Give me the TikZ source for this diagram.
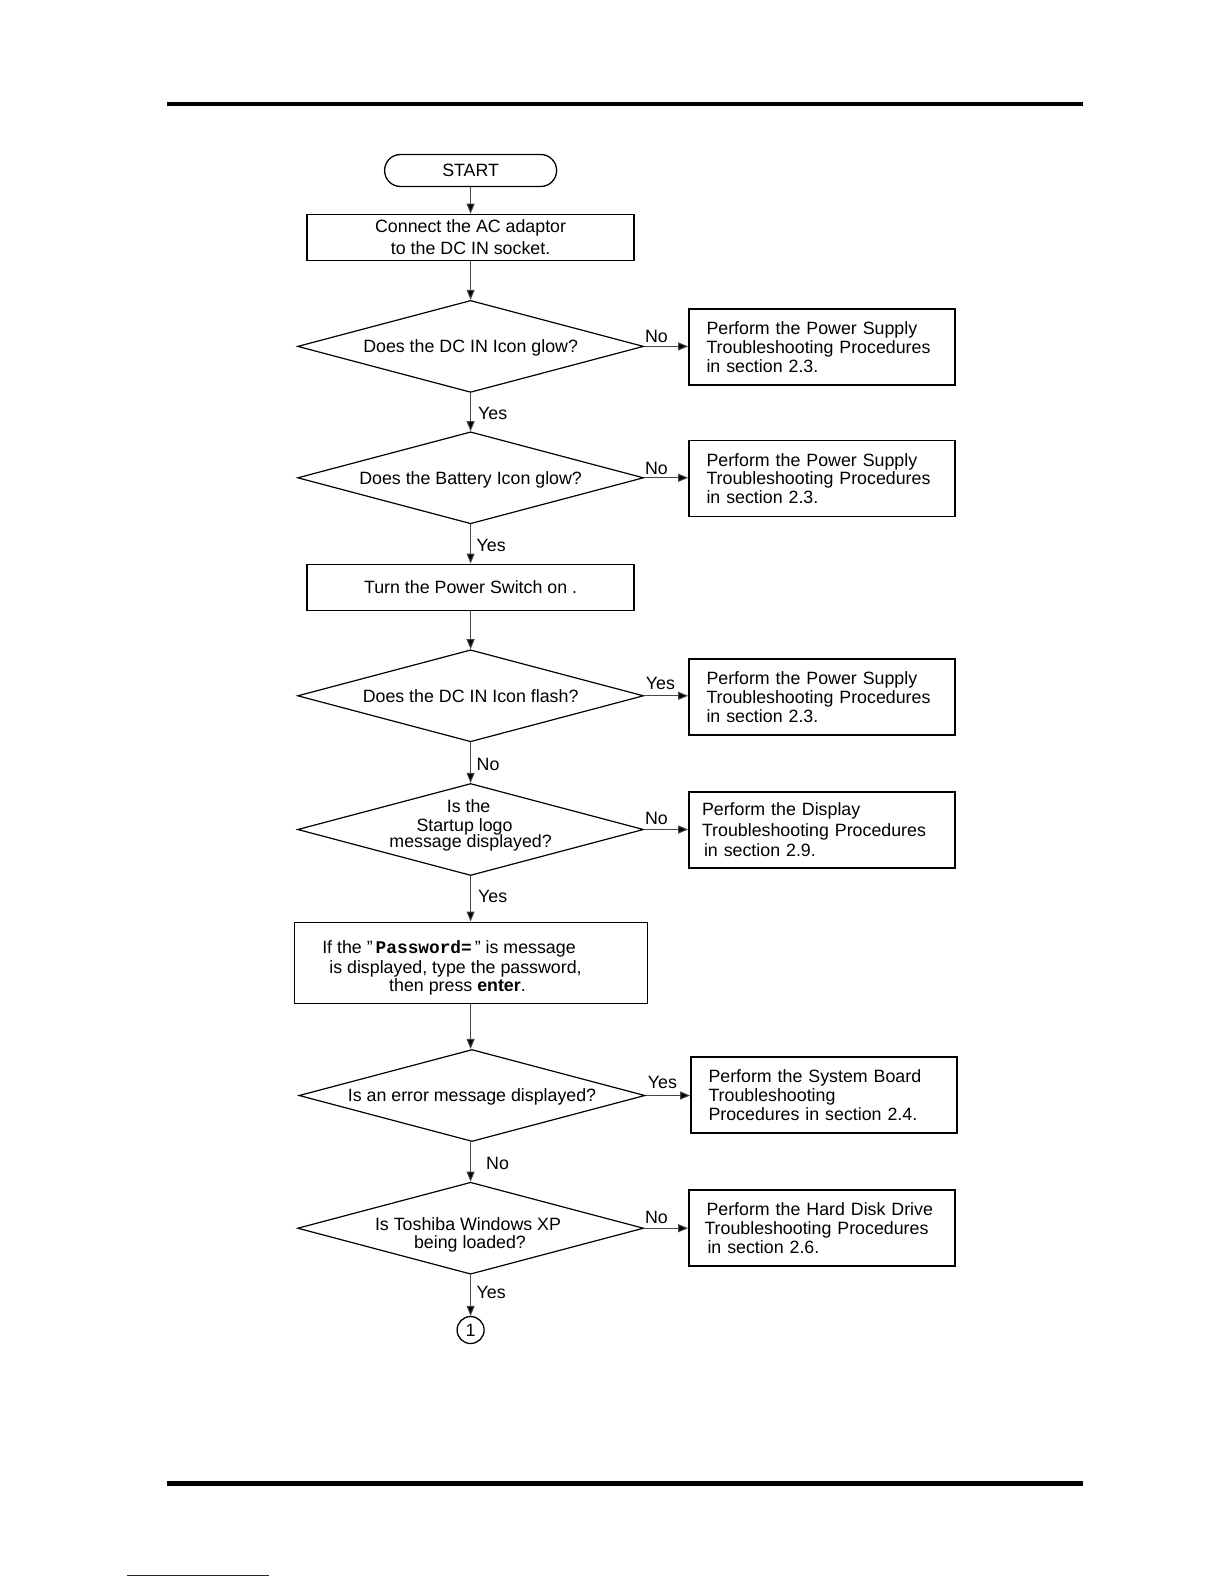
\documentclass[tikz,border=0pt]{standalone}
\usepackage{fontspec}
\setmainfont{Liberation Sans}
\newfontfamily\pwfont{Liberation Mono}
\usetikzlibrary{shapes.geometric,arrows.meta}
\definecolor{navyline}{RGB}{25,25,160}
\definecolor{conn}{RGB}{70,70,70}
\begin{document}
\begin{tikzpicture}[x=1pt,y=-1pt,
  every node/.style={font=\fontsize{17.8}{18.7}\selectfont, inner sep=0pt},
  dec/.style={diamond, draw, line width=1.2pt, aspect=3.76, minimum width=346pt, minimum height=92pt,
              text height=12.7pt, text depth=0pt},
  procbox/.style={draw, line width=1.7pt, rectangle, minimum width=266pt, minimum height=76pt,
                  text width=231pt, inner xsep=17.5pt, align=left},
  mainbox/.style={draw, line width=1.6pt, rectangle, minimum width=327pt, minimum height=46pt, align=center},
  arr/.style={draw=conn, line width=1pt, -{Triangle[length=10pt,width=8pt,fill=black]}},
  lbl/.style={anchor=base},
  vlbl/.style={anchor=base west}
]
\useasboundingbox (0,0) rectangle (1224,1584);
% page rules
\fill (167,102) rectangle (1083,106);
\fill (167,1481) rectangle (1083,1486);
\draw[navyline, line width=1pt] (127,1575) -- (269,1575);

% main column
\node[draw, line width=1.3pt, rounded corners=15.9pt, minimum width=172pt, minimum height=32pt] (start) at (470.6,170.5) {START};
\node[mainbox, font=\fontsize{17.8}{22.2}\selectfont] (b1) at (470.6,237.5) {Connect the AC adaptor\\to the DC IN socket.};
\node[dec] (d1) at (470.6,346.4) {Does the DC IN Icon glow?};
\node[dec] (d2) at (470.6,477.8) {Does the Battery Icon glow?};
\node[mainbox] (b2) at (470.6,587.3) {Turn the Power Switch on .};
\node[dec] (d3) at (470.6,695.8) {Does the DC IN Icon flash?};
\node[dec] (d4) at (470.6,829.5) {};
\node at (468.6,806.5) {Is the};
\node at (464.5,827) {Startup logo};
\node at (470.6,843) {message displayed?};
\node[draw, line width=1pt, minimum width=353pt, minimum height=81pt] (pw) at (470.6,962.5) {};
\node at (449,948.5) {If the \symbol{34}\,{\pwfont\bfseries Password=}\,\symbol{34} is message};
\node at (455.5,968.5) {is displayed, type the password,};
\node at (457.5,987) {then press \textbf{enter}.};
\node[dec] (d5) at (472,1095.5) {Is an error message displayed?};
\node[dec] (d6) at (470.6,1228.2) {};
\node at (468,1224) {Is Toshiba Windows XP};
\node at (470,1244) {being loaded?};
\node[draw, circle, line width=1.3pt, minimum size=27pt] (c1) at (470.6,1330) {1};

% right column
\node[procbox] (r1) at (822,347.2) {Perform the Power Supply\\Troubleshooting Procedures\\in section 2.3.};
\node[procbox] (r2) at (822,478.6) {Perform the Power Supply\\Troubleshooting Procedures\\in section 2.3.};
\node[procbox] (r3) at (822,697) {Perform the Power Supply\\Troubleshooting Procedures\\in section 2.3.};
\node[procbox, inner xsep=13pt, text width=240pt, font=\fontsize{17.8}{20.5}\selectfont] (r4) at (822,830) {Perform the Display\\Troubleshooting Procedures\\\hspace*{2pt}in section 2.9.};
\node[procbox] (r5) at (824,1095.3) {Perform the System Board\\Troubleshooting\\Procedures in section 2.4.};
\node[procbox, font=\fontsize{17.8}{19.2}\selectfont] (r6) at (822,1228.3) {Perform the Hard Disk Drive\\[-0.2pt]\hspace*{-2pt}Troubleshooting Procedures\\\hspace*{1pt}in section 2.6.};

% connectors
\draw[arr] (start) -- (b1);
\draw[arr] (b1) -- (d1);
\draw[arr] (d1) -- (d2);
\draw[arr] (d2) -- (b2);
\draw[arr] (b2) -- (d3);
\draw[arr] (d3) -- (d4);
\draw[arr] (d4) -- (pw);
\draw[arr] (pw.south) -- (pw.south |- d5.north);
\draw[arr] (d5.south -| d6.north) -- (d6);
\draw[arr] (d6) -- (c1);
\draw[arr] (d1.east) -- (r1.west |- d1.east);
\draw[arr] (d2.east) -- (r2.west |- d2.east);
\draw[arr] (d3.east) -- (r3.west |- d3.east);
\draw[arr] (d4.east) -- (r4.west |- d4.east);
\draw[arr] (d5.east) -- (r5.west |- d5.east);
\draw[arr] (d6.east) -- (r6.west |- d6.east);

% labels
\node[lbl] at (656.4,342.7) {No};
\node[lbl] at (656.4,474) {No};
\node[lbl] at (660.5,689.2) {Yes};
\node[lbl] at (656.4,824.4) {No};
\node[lbl] at (662.5,1088) {Yes};
\node[lbl] at (656.4,1223.4) {No};
\node[vlbl] at (478,419.5) {Yes};
\node[vlbl] at (476.5,551.5) {Yes};
\node[vlbl] at (476.5,770) {No};
\node[vlbl] at (478,902.5) {Yes};
\node[vlbl] at (486,1169.5) {No};
\node[vlbl] at (476.5,1298.5) {Yes};
\end{tikzpicture}
\end{document}
